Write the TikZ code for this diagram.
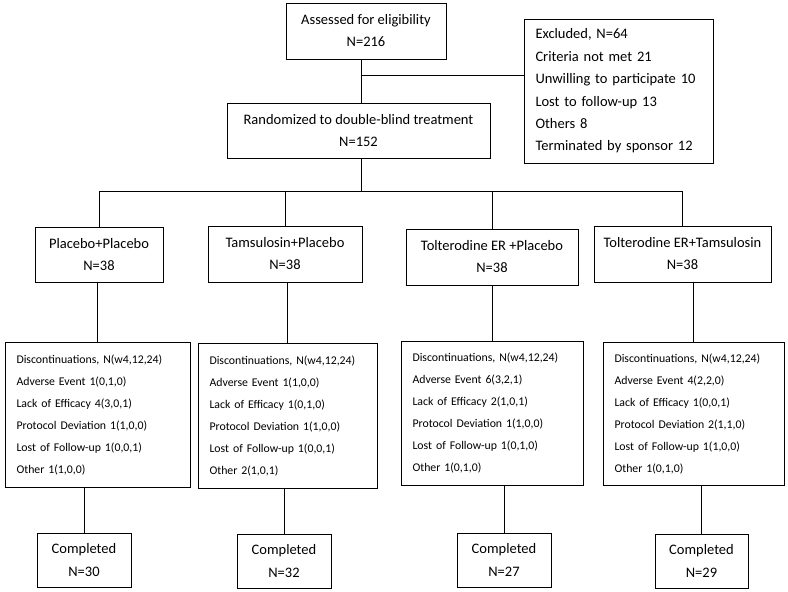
\documentclass[tikz,border=0pt]{standalone}
\usepackage{fontspec}
\setmainfont{Carlito}
\begin{document}
\begin{tikzpicture}[x=1pt,y=-1pt,
  box/.style={draw=black, line width=1pt, rectangle, inner sep=0pt, align=center,
    font=\fontsize{14.5}{22}\selectfont},
  lbox/.style={draw=black, line width=1pt, rectangle, inner xsep=11.5pt, inner ysep=0pt, align=left},
  conn/.style={draw=black, line width=1pt}]
\useasboundingbox (0,0) rectangle (788,592);
% top
\node[box, minimum width=160pt, minimum height=56pt] (a) at (366,31) {Assessed for eligibility\\N=216};
\node[lbox, font=\fontsize{14.5}{22.4}\selectfont, text width=166pt, minimum height=144pt] (ex) at (618.5,91)
  {Excluded, N=64\\Criteria not met 21\\Unwilling to participate 10\\Lost to follow-up 13\\Others 8\\Terminated by sponsor 12};
\node[box, minimum width=263pt, minimum height=55pt] (r) at (358.5,130.5) {Randomized to double-blind treatment\\N=152};
% groups
\node[box, minimum width=128pt, minimum height=55pt] (g1) at (99,254.5) {Placebo+Placebo\\N=38};
\node[box, minimum width=154pt, minimum height=56pt] (g2) at (285,254) {Tamsulosin+Placebo\\N=38};
\node[box, minimum width=172pt, minimum height=56pt] (g3) at (492,257) {Tolterodine ER +Placebo\\N=38};
\node[box, minimum width=177pt, minimum height=56pt] (g4) at (682.5,254) {Tolterodine ER+Tamsulosin\\N=38};
% discontinuations
\tikzset{dfont/.style={font=\fontsize{11.8}{22}\selectfont}}
\node[lbox, dfont, text width=162pt, minimum height=145pt] (d1) at (97.5,414.5)
  {Discontinuations, N(w4,12,24)\\Adverse Event 1(0,1,0)\\Lack of Efficacy 4(3,0,1)\\Protocol Deviation 1(1,0,0)\\Lost of Follow-up 1(0,0,1)\\Other 1(1,0,0)};
\node[lbox, dfont, text width=156pt, minimum height=145pt] (d2) at (287.5,415.5)
  {Discontinuations, N(w4,12,24)\\Adverse Event 1(1,0,0)\\Lack of Efficacy 1(0,1,0)\\Protocol Deviation 1(1,0,0)\\Lost of Follow-up 1(0,0,1)\\Other 2(1,0,1)};
\node[lbox, dfont, text width=159pt, minimum height=144pt] (d3) at (492,413)
  {Discontinuations, N(w4,12,24)\\Adverse Event 6(3,2,1)\\Lack of Efficacy 2(1,0,1)\\Protocol Deviation 1(1,0,0)\\Lost of Follow-up 1(0,1,0)\\Other 1(0,1,0)};
\node[lbox, dfont, text width=158pt, minimum height=143pt] (d4) at (693.5,413.5)
  {Discontinuations, N(w4,12,24)\\Adverse Event 4(2,2,0)\\Lack of Efficacy 1(0,0,1)\\Protocol Deviation 2(1,1,0)\\Lost of Follow-up 1(1,0,0)\\Other 1(0,1,0)};
% completed
\node[box, minimum width=94pt, minimum height=54pt, font=\fontsize{14.5}{23}\selectfont] (c1) at (84,560) {Completed\\N=30};
\node[box, minimum width=94pt, minimum height=54pt, font=\fontsize{14.5}{23}\selectfont] (c2) at (284,561) {Completed\\N=32};
\node[box, minimum width=94pt, minimum height=54pt, font=\fontsize{14.5}{23}\selectfont] (c3) at (504,560) {Completed\\N=27};
\node[box, minimum width=93pt, minimum height=54pt, font=\fontsize{14.5}{23}\selectfont] (c4) at (701.5,561) {Completed\\N=29};
% connectors
\coordinate (jx) at (361,75);
\coordinate (jb) at (361,191);
\draw[conn] (a.south -| jx) -- (r.north -| jx);
\draw[conn] (jx) -- (jx -| ex.west);
\draw[conn] (r.south -| jb) -- (jb);
\draw[conn] (g1.north |- jb) -- (g4.north |- jb);
\foreach \g in {g1,g2,g3,g4} { \draw[conn] (\g.north |- jb) -- (\g.north); }
\foreach \g/\d in {g1/d1,g2/d2,g3/d3,g4/d4} { \draw[conn] (\d.north) -- (\d.north |- \g.south); }
\foreach \d/\c in {d1/c1,d2/c2,d3/c3,d4/c4} { \draw[conn] (\c.north) -- (\c.north |- \d.south); }
\end{tikzpicture}
\end{document}
